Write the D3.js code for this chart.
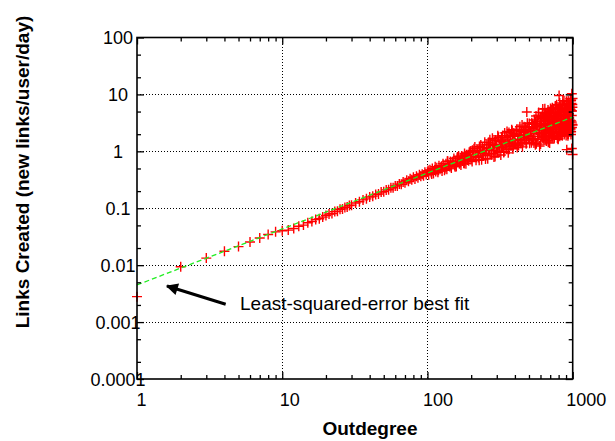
<!DOCTYPE html>
<html>
<head>
<meta charset="utf-8">
<script src="https://cdn.jsdelivr.net/npm/d3@7"></script>
<style>
  html, body { margin: 0; padding: 0; background: #fff; }
  svg { display: block; }
  text { font-family: "Liberation Sans", Arial, Helvetica, sans-serif; fill: #000; }
</style>
</head>
<body>
<svg id="chart" width="615" height="441"></svg>
<script>
// ---------------- data ----------------
const xMajorTicks = [1, 10, 100, 1000];
const yMajorTicks = [0.0001, 0.001, 0.01, 0.1, 1, 10, 100];
const xTickLabels = ["1", "10", "100", "1000"];
const yTickLabels = ["0.0001", "0.001", "0.01", "0.1", "1", "10", "100"];
const xMinorTicks = [2,3,4,5,6,7,8,9,20,30,40,50,60,70,80,90,200,300,400,500,600,700,800,900];
const yMinorTicks = [0.0002,0.0005,0.002,0.005,0.02,0.05,0.2,0.5,2,5,20,50];

const xTitle = "Outdegree";
const yTitle = "Links Created (new links/user/day)";
const noteText = "Least-squared-error best fit";

// low outdegrees: one point per outdegree
const degLow = [1,2,3,4,5,6,7,8,9,10,11,12,13,14,15,16,17,18,19,20,21,22,23,24,25,26,27,28,29,30,
  32,34,36,38,40,42,44,46,48,50,52,54,56,58,60,62,64,66,68,70,72,74,76,78,80,82,84,86,88,90,92,94,96,98];
const linksLow = [.0028,.0094,.0133,.0176,.0212,.0255,.0300,.0345,.0385,.0402,
  .0413,.0440,.0482,.0506,.0555,.0584,.0634,.0655,.0699,.0744,
  .0789,.0808,.0873,.0890,.0959,.0974,.1034,.1048,.1121,.1134,
  .1236,.1297,.1402,.1462,.1573,.1632,.1745,.1785,.1921,.1958,
  .2100,.2112,.2283,.2290,.2469,.2471,.2657,.2628,.2905,.2814,
  .3103,.2971,.3305,.3162,.3509,.3253,.3646,.3444,.3890,.3639,
  .3949,.3720,.4278,.3917];

// mid outdegrees (100..399)
const degMid = [100,102,104,106,108,110,112,114,116,118,120,122,124,126,128,130,132,134,136,138,
  140,142,144,146,148,150,152,154,156,158,160,162,164,166,168,170,172,174,176,178,
  180,182,184,186,188,190,192,194,196,198,
  200,204,208,212,216,220,224,228,232,236,240,244,248,252,256,260,264,268,272,276,
  280,284,288,292,296,300,304,308,312,316,320,324,328,332,336,340,344,348,352,356,
  360,364,368,372,376,380,384,388,392,396,
  101,107,113,119,125,131,137,143,149,155,161,167,173,179,185,191,197,203,209,215,
  221,227,233,239,245,251,257,263,269,275,281,287,293,299,305,311,317,323,329,335,
  341,347,353,359,365,371,377,383,389,395];
const linksMid = [.434,.388,.473,.425,.500,.409,.472,.443,.517,.429,
  .560,.484,.532,.452,.608,.532,.496,.603,.483,.667,
  .584,.545,.666,.507,.648,.589,.747,.566,.663,.542,
  .754,.649,.819,.604,.743,.576,.824,.676,.800,.625,
  .914,.744,.608,.868,.706,.824,.682,.961,.769,.892,
  .718,1.04,.823,1.19,.696,.988,.777,1.21,.966,.713,
  1.16,.906,1.44,.843,1.12,.743,1.43,1.04,1.35,.867,
  1.69,1.03,1.32,.810,1.53,1.22,.992,1.76,1.18,1.48,
  .862,1.78,1.16,1.46,.987,2.11,1.35,1.76,1.09,1.64,
  .940,2.15,1.35,1.82,1.24,2.40,1.54,1.11,2.08,1.39,
  .459,.398,.537,.466,.547,.465,.668,.544,.634,.538,
  .798,.669,.800,.613,.825,.710,.993,.662,1.11,.816,
  1.04,.695,1.29,.858,1.05,.737,1.31,1.04,1.59,.920,
  1.26,.796,1.58,1.10,1.87,.964,1.53,1.24,1.88,.957,
  1.50,1.19,2.23,1.45,1.09,1.91,1.37,2.31,1.24,1.84];

// high outdegrees (400..1000), widely scattered
const degHigh = [400,406,412,418,424,430,436,442,448,454,460,466,472,478,484,490,496,502,508,514,
  520,526,532,538,544,550,556,562,568,574,580,586,592,598,604,610,616,622,628,634,
  640,646,652,658,664,670,676,682,688,694,700,706,712,718,724,730,736,742,748,754,
  760,766,772,778,784,790,796,802,808,814,820,826,832,838,844,850,856,862,868,874,
  880,886,892,898,904,910,916,922,928,934,940,946,952,958,964,970,976,982,988,994,
  603,615,627,639,651,663,675,687,699,711,723,735,747,759,771,783,795,807,819,831,
  843,855,867,879,891,903,915,927,939,951,963,975,987,999,
  483,806,986,986,910,998];
const linksHigh = [1.96,1.33,2.44,1.63,1.26,2.31,1.87,1.54,2.89,1.43,
  2.15,1.76,2.64,1.36,2.43,2.01,1.66,3.08,1.85,2.27,
  1.42,3.00,2.55,1.66,3.56,2.04,3.26,1.36,2.75,1.81,
  4.33,2.37,1.24,3.87,2.15,3.40,1.74,5.53,2.66,1.61,
  3.88,2.14,4.61,1.52,3.43,2.60,5.33,2.04,3.11,1.40,
  4.75,2.45,4.08,1.89,5.85,3.18,2.29,4.74,1.81,4.02,
  2.86,5.82,2.21,3.71,1.71,5.49,3.15,4.80,2.19,7.07,
  2.78,4.07,1.98,5.48,3.51,2.61,6.64,3.10,4.77,1.98,
  6.33,3.36,4.54,2.32,7.60,2.98,5.63,2.57,4.35,2.00,
  6.95,3.86,2.81,5.57,2.38,7.76,3.43,5.16,2.63,6.67,
  3.05,1.84,4.10,2.38,3.68,1.55,3.00,5.00,2.26,3.88,
  1.81,4.60,2.87,6.29,2.18,3.80,1.67,5.48,2.98,4.87,
  2.25,7.77,3.68,2.13,5.69,2.85,7.02,1.87,4.36,3.27,
  8.37,2.21,5.10,2.91,
  4.9,9.6,10.3,1.12,1.07,0.88];

// more high outdegrees (second pass through the dense cloud)
const degHigh2 = [403,409,415,421,427,433,439,445,451,457,463,469,475,481,487,493,499,505,511,517,
  523,529,535,541,547,553,559,565,571,577,583,589,595,601,607,613,619,625,631,637,
  643,649,655,661,667,673,679,685,691,697,703,709,715,721,727,733,739,745,751,757,
  763,769,775,781,787,793,799,805,811,817,823,829,835,841,847,853,859,865,871,877,
  883,889,895,901,907,913,919,925,931,937,943,949,955,961,967,973,979,985,991,997,
  605,615,625,635,645,655,665,675,685,695,705,715,725,735,745,755,765,775,785,795,
  805,815,825,835,845,855,865,875,885,895,905,915,925,935,945,955,965,975,985,995];
const linksHigh2 = [1.38,2.31,1.17,1.91,1.59,2.71,1.38,2.25,1.20,1.94,
  2.71,1.55,2.26,1.40,3.11,1.89,2.62,1.39,2.27,1.80,
  3.17,1.60,2.64,1.40,3.05,1.30,4.18,2.33,3.35,1.63,
  4.83,2.09,3.01,1.34,4.05,2.35,4.75,1.72,2.93,2.06,
  5.59,2.62,1.59,4.14,2.43,3.67,1.45,4.93,2.96,2.03,
  5.68,2.43,4.10,1.81,3.67,2.87,5.61,1.72,3.34,2.45,
  4.93,2.05,6.58,2.90,4.39,1.63,5.49,3.38,2.42,4.95,
  2.03,6.53,2.97,4.35,1.88,5.79,3.47,2.45,7.74,2.94,
  5.17,2.26,4.05,1.89,6.60,3.54,4.94,2.54,7.71,2.99,
  4.57,2.22,6.25,3.53,5.47,1.97,6.92,4.26,3.00,8.46,
  2.81,1.94,3.79,2.31,3.39,1.91,4.57,2.86,1.72,3.93,
  2.62,5.34,2.20,3.56,1.81,4.73,3.09,2.19,5.55,2.73,
  4.23,1.84,5.33,3.71,2.73,6.74,2.31,4.42,3.40,5.60,
  2.56,4.25,2.02,6.80,3.36,5.21,2.50,7.88,3.26,5.95];

// least-squared-error best-fit line endpoints
const fitX = [1, 1000];
const fitY = [0.0045, 4.0];

// ---------------- drawing ----------------
const svg = d3.select("#chart");
const W = 615, H = 441;
const L = 137, R = 572.7, T = 37.5, B = 379;

const x = d3.scaleLog().domain([1, 1000]).range([L, R]);
const y = d3.scaleLog().domain([0.0001, 100]).range([B, T]);

svg.append("rect").attr("width", W).attr("height", H).attr("fill", "#fff");

// grid (dotted)
const grid = svg.append("g").attr("stroke", "#000").attr("stroke-width", 1)
  .attr("stroke-dasharray", "1,2").attr("fill", "none").attr("shape-rendering", "crispEdges");
grid.selectAll("line.vx").data(xMajorTicks.slice(1, -1)).join("line")
  .attr("x1", d => x(d)).attr("x2", d => x(d)).attr("y1", T).attr("y2", B);
grid.selectAll("line.hy").data(yMajorTicks.slice(1, -1)).join("line")
  .attr("y1", d => y(d)).attr("y2", d => y(d)).attr("x1", L).attr("x2", R);

// points
const pts = [];
degLow.forEach((d, i) => pts.push([d, linksLow[i]]));
degMid.forEach((d, i) => pts.push([d, linksMid[i]]));
degHigh.forEach((d, i) => pts.push([d, linksHigh[i]]));
degHigh2.forEach((d, i) => pts.push([d, linksHigh2[i]]));

svg.append("g").attr("stroke", "#ff0000").attr("stroke-width", 1.4).attr("fill", "none")
  .selectAll("path").data(pts).join("path")
  .attr("d", "M-5,0H5M0,-5V5")
  .attr("transform", d => `translate(${x(d[0])},${y(d[1])})`);

// fit line
svg.append("path")
  .datum(fitX.map((d, i) => [d, fitY[i]]))
  .attr("fill", "none").attr("stroke", "#22ee22").attr("stroke-width", 1.3)
  .attr("stroke-dasharray", "5,3")
  .attr("d", d3.line().x(d => x(d[0])).y(d => y(d[1])));

// axes (ticks inside, mirrored)
function styleAxis(g) {
  g.select(".domain").remove();
  g.selectAll(".tick line").attr("stroke", "#000").attr("stroke-width", 1.3);
}
const fontPx = 18;
const gB = svg.append("g").attr("transform", `translate(0,${B})`)
  .call(d3.axisBottom(x).tickValues(xMajorTicks).tickSize(-7).tickSizeOuter(0)
    .tickPadding(14).tickFormat((d, i) => xTickLabels[i]));
styleAxis(gB);
gB.selectAll("text").attr("font-size", fontPx).attr("font-family", null)
  .attr("dx", (d, i) => 4 + 3 * i).attr("dy", "0.71em");
svg.append("g").attr("transform", `translate(0,${B})`)
  .call(d3.axisBottom(x).tickValues(xMinorTicks).tickSize(-4).tickFormat(""))
  .call(styleAxis);
svg.append("g").attr("transform", `translate(0,${T})`)
  .call(d3.axisTop(x).tickValues(xMajorTicks).tickSize(-7).tickFormat(""))
  .call(styleAxis);
svg.append("g").attr("transform", `translate(0,${T})`)
  .call(d3.axisTop(x).tickValues(xMinorTicks).tickSize(-4).tickFormat(""))
  .call(styleAxis);

const gL = svg.append("g").attr("transform", `translate(${L},0)`)
  .call(d3.axisLeft(y).tickValues(yMajorTicks).tickSize(-7).tickSizeOuter(0)
    .tickPadding(0).tickFormat((d, i) => yTickLabels[i]));
styleAxis(gL);
gL.selectAll("text").attr("font-size", fontPx).attr("font-family", null)
  .attr("text-anchor", "middle").attr("x", 118 - L).attr("dy", "0.35em");
svg.append("g").attr("transform", `translate(${L},0)`)
  .call(d3.axisLeft(y).tickValues(yMinorTicks).tickSize(-4).tickFormat(""))
  .call(styleAxis);
svg.append("g").attr("transform", `translate(${R},0)`)
  .call(d3.axisRight(y).tickValues(yMajorTicks).tickSize(-7).tickFormat(""))
  .call(styleAxis);
svg.append("g").attr("transform", `translate(${R},0)`)
  .call(d3.axisRight(y).tickValues(yMinorTicks).tickSize(-4).tickFormat(""))
  .call(styleAxis);

// frame
svg.append("rect").attr("x", L).attr("y", T).attr("width", R - L).attr("height", B - T)
  .attr("fill", "none").attr("stroke", "#000").attr("stroke-width", 1.6);

// titles
svg.append("text").attr("x", 370).attr("y", 435).attr("text-anchor", "middle")
  .attr("font-size", 19).attr("font-weight", "bold").text(xTitle);
svg.append("text").attr("transform", "translate(29,172) rotate(-90)")
  .attr("text-anchor", "middle").attr("font-size", 19).attr("font-weight", "bold").text(yTitle);

// annotation
const defs = svg.append("defs");
defs.append("marker").attr("id", "ah").attr("viewBox", "0 0 10 10")
  .attr("refX", 9).attr("refY", 5).attr("markerWidth", 6).attr("markerHeight", 4)
  .attr("markerUnits", "strokeWidth").attr("orient", "auto")
  .append("path").attr("d", "M0,0L10,5L0,10Z").attr("fill", "#000");
svg.append("line").attr("x1", 225.7).attr("y1", 304.3).attr("x2", 167).attr("y2", 286)
  .attr("stroke", "#000").attr("stroke-width", 3).attr("marker-end", "url(#ah)");
svg.append("text").attr("x", 240).attr("y", 310).attr("font-size", 19).text(noteText);
</script>
</body>
</html>
